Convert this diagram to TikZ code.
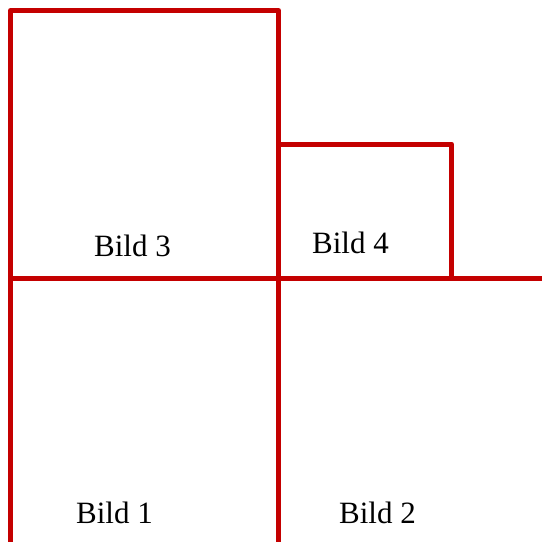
\documentclass[tikz,border=0pt]{standalone}
\usepackage{fontspec}
\setmainfont{Liberation Serif}
\definecolor{linered}{HTML}{C40000}
\begin{document}
\begin{tikzpicture}[x=1pt,y=-1pt,
  redline/.style={draw=linered,line width=5pt,line join=round},
  lbl/.style={anchor=base west,inner sep=0pt,font=\fontsize{31}{34}\selectfont}]
\useasboundingbox (0,0) rectangle (542,542);
\coordinate (bl) at (10.5,542);
\coordinate (tl) at (10.5,10.5);
\coordinate (tm) at (278.5,10.5);
\coordinate (bm) at (278.5,542);
\coordinate (ml) at (10.5,278);
\coordinate (mr) at (542,278);
\coordinate (st) at (278.5,144);
\coordinate (sr) at (451.5,144);
\coordinate (sb) at (451.5,278);
\draw[redline] (bl) -- (tl) -- (tm) -- (bm);
\draw[redline] (ml) -- (mr);
\draw[redline] (st) -- (sr) -- (sb);
\node[lbl] (b3) at (94,256) {Bild 3};
\node[lbl] (b4) at (312,253) {Bild 4};
\node[lbl] (b1) at (76,523) {Bild 1};
\node[lbl] (b2) at (339,523) {Bild 2};
\end{tikzpicture}
\end{document}
